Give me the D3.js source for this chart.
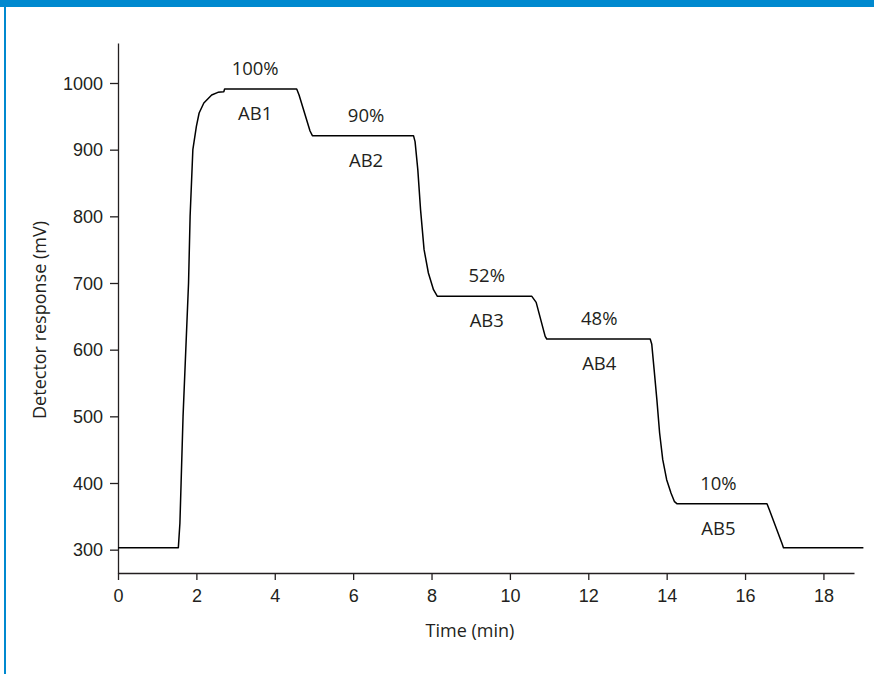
<!DOCTYPE html>
<html>
<head>
<meta charset="utf-8">
<script src="https://cdnjs.cloudflare.com/ajax/libs/d3/7.8.5/d3.min.js"></script>
<style>
  body { margin: 0; background: #fff; }
  svg { display: block; font-family: "Open Sans", sans-serif; }
  .axis text { font-size: 18px; fill: #231f20; }
  .axis path, .axis line { stroke: #231f20; stroke-width: 1.3; }
</style>
</head>
<body>
<svg id="chart" width="874" height="674" viewBox="0 0 874 674"></svg>
<script>
// detector trace: time (min) and response (mV)
const times = [0, 1.54, 1.58, 1.61, 1.66, 1.80, 1.84, 1.91, 2.00, 2.07, 2.19, 2.39, 2.55, 2.70, 2.72,
  4.56, 4.62, 4.90, 4.96, 7.54, 7.58, 7.65, 7.72, 7.81, 7.92, 8.05, 8.15,
  10.56, 10.67, 10.90, 10.94, 13.58, 13.62, 13.68, 13.75, 13.82, 13.90, 14.00, 14.11, 14.20, 14.26,
  16.56, 16.62, 16.95, 16.98, 19.02]
const response = [303, 303, 340, 400, 500, 700, 800, 900, 935, 955, 970, 982, 986, 987, 991,
  991, 982, 928, 921, 921, 912, 870, 810, 750, 715, 690, 680,
  680, 671, 620, 616, 616, 608, 570, 525, 475, 435, 405, 385, 372, 369,
  369, 360, 308, 303, 303]

const stepLabels = ["100%", "90%", "52%", "48%", "10%"]
const bufferLabels = ["AB1", "AB2", "AB3", "AB4", "AB5"]
const labelTimes = [3.5, 6.33, 9.41, 12.28, 15.32]   // centre of each plateau
const plateaus = [991, 921, 680, 616, 369]

const xTicks = [0, 2, 4, 6, 8, 10, 12, 14, 16, 18]
const yTicks = [300, 400, 500, 600, 700, 800, 900, 1000]

const svg = d3.select("#chart")

// blue frame: header strip and left rule
svg.append("rect").attr("x", 0).attr("y", 0).attr("width", 874).attr("height", 7).attr("fill", "#0089cf")
svg.append("rect").attr("x", 4).attr("y", 0).attr("width", 2).attr("height", 674).attr("fill", "#0089cf")

const x = d3.scaleLinear().domain([0, 18.78]).range([118, 854])
const y = d3.scaleLinear().domain([265, 1060]).range([573, 43])

svg.append("g")
    .attr("class", "axis")
    .attr("transform", `translate(0,${y(265)})`)
    .call(d3.axisBottom(x).tickValues(xTicks).tickFormat(d3.format("d")).tickSize(7).tickSizeOuter(0).tickPadding(9))

svg.append("g")
    .attr("class", "axis")
    .attr("transform", `translate(${x(0)},0)`)
    .call(d3.axisLeft(y).tickValues(yTicks).tickFormat(d3.format("d")).tickSize(8).tickSizeOuter(0).tickPadding(7))
    .selectAll("text").attr("dy", "0.34em")

svg.selectAll(".axis .domain").attr("fill", "none")

svg.append("text")
    .attr("x", 470).attr("y", 637)
    .attr("text-anchor", "middle")
    .attr("font-size", 18).attr("fill", "#231f20")
    .text("Time (min)")

svg.append("text")
    .attr("transform", "translate(46,320) rotate(-90)")
    .attr("text-anchor", "middle")
    .attr("font-size", 18).attr("fill", "#231f20")
    .text("Detector response (mV)")

const trace = times.map((t, i) => [t, response[i]])

svg.append("path")
    .datum(trace)
    .attr("fill", "none")
    .attr("stroke", "#000")
    .attr("stroke-width", 1.5)
    .attr("stroke-linejoin", "round")
    .attr("d", d3.line().x(d => x(d[0])).y(d => y(d[1])))

// percentage above each plateau, buffer name below it
const labels = svg.append("g").attr("font-size", 18.5).attr("fill", "#231f20").attr("text-anchor", "middle")
labels.selectAll(".pct")
    .data(stepLabels)
    .enter()
    .append("text")
    .attr("x", (d, i) => x(labelTimes[i]))
    .attr("y", (d, i) => y(plateaus[i]) - 14)
    .text(d => d)
labels.selectAll(".ab")
    .data(bufferLabels)
    .enter()
    .append("text")
    .attr("x", (d, i) => x(labelTimes[i]))
    .attr("y", (d, i) => y(plateaus[i]) + 31)
    .text(d => d)
</script>
</body>
</html>
